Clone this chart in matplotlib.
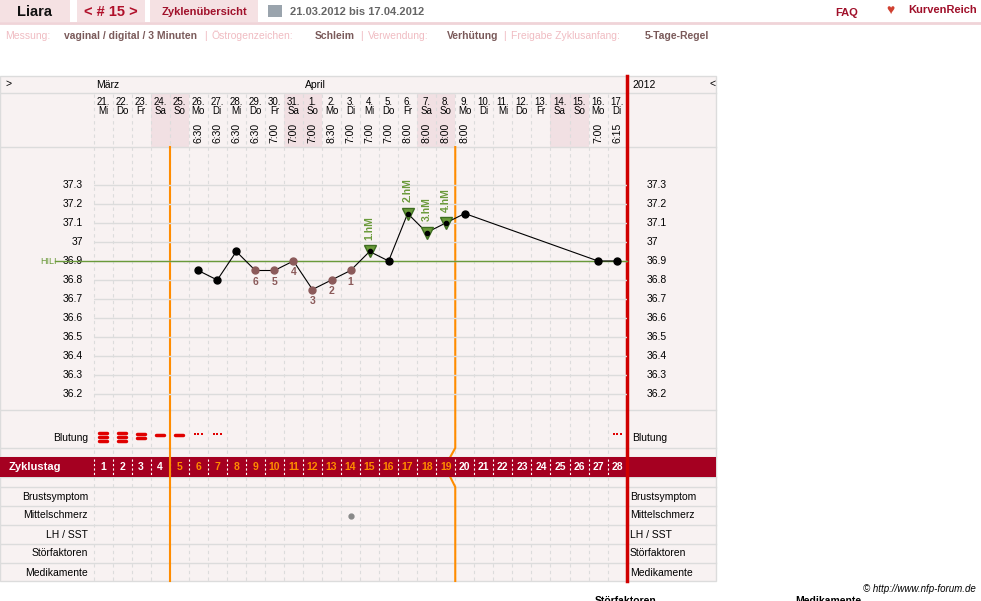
import numpy as np
import matplotlib
matplotlib.use("Agg")
import matplotlib.pyplot as plt

plt.rcParams['font.family'] = ['Liberation Sans', 'DejaVu Sans']

# --- data ---
zyklustag = list(range(1, 29))
datum = ['21.', '22.', '23.', '24.', '25.', '26.', '27.', '28.', '29.', '30.', '31.',
         '1.', '2.', '3.', '4.', '5.', '6.', '7.', '8.', '9.', '10.', '11.', '12.', '13.',
         '14.', '15.', '16.', '17.']
wochentag = ['Mi', 'Do', 'Fr', 'Sa', 'So', 'Mo', 'Di', 'Mi', 'Do', 'Fr', 'Sa', 'So', 'Mo', 'Di',
             'Mi', 'Do', 'Fr', 'Sa', 'So', 'Mo', 'Di', 'Mi', 'Do', 'Fr', 'Sa', 'So', 'Mo', 'Di']
uhrzeit = ['', '', '', '', '', '6:30', '6:30', '6:30', '6:30', '7:00', '7:00', '7:00', '8:30',
           '7:00', '7:00', '7:00', '8:00', '8:00', '8:00', '8:00', '', '', '', '', '', '', '7:00', '6:15']
temp_tage = [6, 7, 8, 9, 10, 11, 12, 13, 14, 15, 16, 17, 18, 19, 20, 27, 28]
temp_werte = [36.85, 36.80, 36.95, 36.85, 36.85, 36.90, 36.75, 36.80, 36.85, 36.95, 36.90,
              37.15, 37.05, 37.10, 37.15, 36.90, 36.90]
tief_tage = [9, 10, 11, 12, 13, 14]
tief_labels = ['6', '5', '4', '3', '2', '1']
hoch_tage = [15, 17, 18, 19]
hoch_labels = ['1.hM', '2.hM', '3.hM', '4.hM']
hili = 36.9
temp_ticks = [37.3, 37.2, 37.1, 37.0, 36.9, 36.8, 36.7, 36.6, 36.5, 36.4, 36.3, 36.2]
temp_ticklabels = ['37.3', '37.2', '37.1', '37', '36.9', '36.8', '36.7', '36.6', '36.5', '36.4', '36.3', '36.2']
blutung_tage = [1, 2, 3, 4, 5, 6, 7, 28]
blutung_stufe = [3, 3, 2, 1, 1, 0, 0, 0]   # 0 = Schmierblutung (Punkte)
mittelschmerz_tage = [14]
zeilen = ['Brustsymptom', 'Mittelschmerz', 'LH / SST', 'Störfaktoren', 'Medikamente']

W, H = 981, 601
X0, COL = 93.5, 19.04
XR = X0 + 28 * COL
def px(d):
    return X0 + (d - 0.5) * COL

GRID = '#dcdcdc'
BG = '#f8f2f2'
WE = '#f1e0e3'
DARK = '#a50021'
ORANGE = '#ff8c00'
GREEN = '#6a9a3a'
BROWN = '#8b5a5a'

fig = plt.figure(figsize=(W / 100, H / 100), dpi=100)
bg = fig.add_axes([0, 0, 1, 1])
bg.set_xlim(0, W)
bg.set_ylim(H, 0)
bg.axis('off')

# --- top bar ---
for x0, x1 in [(0, 70), (77, 145), (150, 258)]:
    bg.add_patch(plt.Rectangle((x0, 0), x1 - x0, 22, color='#f5e1e3', lw=0))
bg.plot([0, W], [23, 23], color='#f0d4d8', lw=2)
bg.text(35, 12, 'Liara', ha='center', va='center', fontsize=10.5, weight='bold', color='#111')
bg.text(111, 12, '< # 15 >', ha='center', va='center', fontsize=10.5, weight='bold', color='#b0102a')
bg.text(204, 12, 'Zyklenübersicht', ha='center', va='center', fontsize=8, weight='bold', color='#a0102a')
bg.add_patch(plt.Rectangle((268, 5), 14, 12, color='#9aa4ad', lw=0))
bg.text(290, 12, '21.03.2012 bis 17.04.2012', ha='left', va='center', fontsize=8, weight='bold', color='#666')
bg.text(847, 13, 'FAQ', ha='center', va='center', fontsize=8, weight='bold', color='#a0102a')
bg.text(908, 10, 'KurvenReich', ha='left', va='center', fontsize=8, weight='bold', color='#a0102a')
bg.text(890, 10, '♥', ha='center', va='center', fontsize=10, color='#d04030')

info = [('Messung:', '#f0bcc2', 5), ('vaginal / digital / 3 Minuten', '#7a5a5a', 64),
        ('|', '#f0bcc2', 204), ('Östrogenzeichen:', '#f0bcc2', 212), ('Schleim', '#7a5a5a', 315),
        ('|', '#f0bcc2', 360), ('Verwendung:', '#f0bcc2', 368), ('Verhütung', '#7a5a5a', 447),
        ('|', '#f0bcc2', 503), ('Freigabe Zyklusanfang:', '#f0bcc2', 511), ('5-Tage-Regel', '#7a5a5a', 645)]
for t, c, x in info:
    bg.text(x, 36, t, ha='left', va='center', fontsize=7.5, color=c,
            weight='bold' if c == '#7a5a5a' else 'normal')

# --- chart frame ---
bg.add_patch(plt.Rectangle((0, 76), 716, 505, facecolor=BG, edgecolor=GRID, lw=1))
bg.add_patch(plt.Rectangle((0, 457), 716, 20, color=DARK, lw=0, zorder=3))
for y in [93, 147, 410, 448, 457, 477, 487, 506, 525, 544, 563]:
    bg.plot([0, 716], [y, y], color=GRID, lw=1)
bg.text(5, 84, '>', fontsize=7.5, va='center')
bg.text(709, 84, '<', fontsize=7.5, va='center')
bg.text(96, 85, 'März', fontsize=7.5, va='center')
bg.text(305, 85, 'April', fontsize=7.5, va='center')
bg.text(632, 85, '2012', fontsize=7.5, va='center')

for i, d in enumerate(zyklustag):
    x = px(d)
    if wochentag[i] in ('Sa', 'So'):
        bg.add_patch(plt.Rectangle((x - COL / 2, 94), COL, 53, color=WE, lw=0))
    bg.text(x, 102, datum[i], ha='center', va='center', fontsize=7)
    bg.text(x, 111, wochentag[i], ha='center', va='center', fontsize=7)
    if uhrzeit[i]:
        bg.text(x, 133, uhrzeit[i], ha='center', va='center', rotation=90, fontsize=7.5)
    for y0, y1 in [(94, 147), (147, 410), (410, 457), (477, 581)]:
        bg.plot([x - COL / 2] * 2, [y0, y1], color=GRID, lw=0.8, ls=(0, (3, 3)))
    bg.plot([x - COL / 2] * 2, [459, 475], color='white', lw=0.8, ls=(0, (2, 2)), zorder=4)
    bg.text(x, 467, str(d), ha='center', va='center', fontsize=7.5, weight='bold', zorder=5,
            color=ORANGE if 5 <= d <= 19 else 'white')

# --- temperature axes ---
ax = fig.add_axes([X0 / W, 1 - 410 / H, (XR - X0) / W, 263 / H])
ax.set_xlim(0.5, 28.5)
ax.set_ylim(37.3 - (410 - 185) / 190, 37.3 + (185 - 147) / 190)
ax.axis('off')
for t in temp_ticks:
    ax.axhline(t, color=GRID, lw=1)
for t, l in zip(temp_ticks, temp_ticklabels):
    bg.text(83, 185 + (37.3 - t) * 190, l, ha='right', va='center', fontsize=7.5)
    bg.text(647, 185 + (37.3 - t) * 190, l, ha='left', va='center', fontsize=7.5)
ax.plot([-1.5, 28.5], [hili, hili], color=GREEN, lw=1, clip_on=False)
bg.text(40, 261, 'HILI', fontsize=6.5, color=GREEN, va='center')
ax.plot(temp_tage[:15], temp_werte[:15], color='black', lw=0.8)
ax.plot([20, 27, 28], [37.15, 36.9, 36.9], color='black', lw=0.8)
for d, v in zip(temp_tage, temp_werte):
    if d in tief_tage:
        ax.plot(d, v, 'o', ms=5, color=BROWN)
    elif d in hoch_tage:
        ax.plot(d, v, 'v', ms=8, color=GREEN, mec='#3d6d20')
        ax.plot(d, v, 'o', ms=3, color='black')
    else:
        ax.plot(d, v, 'o', ms=5, color='black')
for d, l in zip(tief_tage, tief_labels):
    v = temp_werte[temp_tage.index(d)]
    ax.text(d, v - 0.06, l, ha='center', va='center', fontsize=7.5, weight='bold', color=BROWN)
for d, l in zip(hoch_tage, hoch_labels):
    v = temp_werte[temp_tage.index(d)]
    ax.text(d, v + 0.06, l, ha='center', va='bottom', rotation=90, fontsize=7.5,
            weight='bold', color=GREEN)

# --- Blutung ---
bg.text(88, 438, 'Blutung', ha='right', va='center', fontsize=7.5)
bg.text(632, 438, 'Blutung', ha='left', va='center', fontsize=7.5)
for d, s in zip(blutung_tage, blutung_stufe):
    x = px(d)
    if s == 0:
        bg.plot([x - 3.5, x, x + 3.5], [434, 434, 434], 's', ms=1.6, color='#e00000', mew=0)
    else:
        ys = {3: [433, 437, 441], 2: [434, 438], 1: [435]}[s]
        for y in ys:
            bg.plot([x - 4, x + 4], [y, y], color='#e00000', lw=2.5, solid_capstyle='round')

bg.text(9, 467, 'Zyklustag', ha='left', va='center', fontsize=8, weight='bold', color='white', zorder=5)
for i, z in enumerate(zeilen):
    y = 496.5 + i * 19
    bg.text(88, y, z, ha='right', va='center', fontsize=7.5)
    bg.text(630, y, z, ha='left', va='center', fontsize=7.5)
for d in mittelschmerz_tage:
    bg.plot(px(d), 515.5, 'o', ms=3.5, color='#888')

# --- vertical markers ---
xa = X0 + 4 * COL
xb = X0 + 19 * COL
bg.plot([xa, xa], [147, 581], color=ORANGE, lw=1.5, zorder=6)
bg.plot([xb, xb, xb - 5], [147, 448, 457], color=ORANGE, lw=1.5)
bg.plot([xb - 5, xb, xb], [477, 487, 581], color=ORANGE, lw=1.5)
bg.plot([XR, XR], [76, 581], color='#d00000', lw=2.5, zorder=6)

bg.text(976, 589, '© http://www.nfp-forum.de', ha='right', va='center', fontsize=7, style='italic')
bg.text(595, 601, 'Störfaktoren', ha='left', va='center', fontsize=7.5, weight='bold')
bg.text(795, 601, 'Medikamente', ha='left', va='center', fontsize=7.5, weight='bold')

fig.savefig('out.png', dpi=100)
